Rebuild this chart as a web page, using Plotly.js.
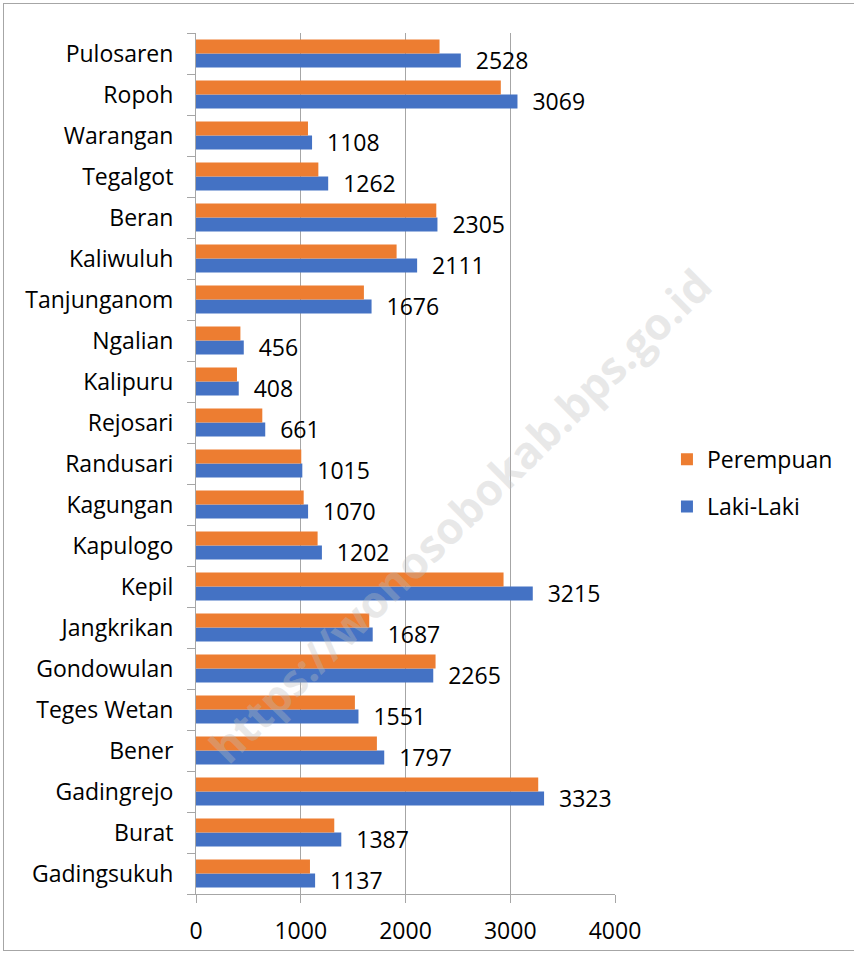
<!DOCTYPE html>
<html>
<head>
<meta charset="utf-8">
<script src="https://cdn.plot.ly/plotly-3.0.1.min.js"></script>
<style>
html,body{margin:0;padding:0;background:#fff;}
#wrap{position:relative;width:854px;height:956px;}
#frame{position:absolute;left:3px;top:3px;width:860px;height:948px;border:1px solid #a6a6a6;box-sizing:border-box;pointer-events:none;z-index:5;}
#chart{position:absolute;left:0;top:0;width:854px;height:956px;}
</style>
</head>
<body>
<div id="wrap"><div id="chart"></div><div id="frame"></div></div>
<script>
// Categories listed bottom to top
const categories = ["Gadingsukuh","Burat","Gadingrejo","Bener","Teges Wetan","Gondowulan","Jangkrikan","Kepil","Kapulogo","Kagungan","Randusari","Rejosari","Kalipuru","Ngalian","Tanjunganom","Kaliwuluh","Beran","Tegalgot","Warangan","Ropoh","Pulosaren"];
const lakiLaki = [1137,1387,3323,1797,1551,2265,1687,3215,1202,1070,1015,661,408,456,1676,2111,2305,1262,1108,3069,2528];
const perempuan = [1088,1320,3267,1727,1517,2287,1654,2936,1161,1028,1005,633,391,424,1603,1915,2294,1168,1069,2910,2325];
const xTicks = [0,1000,2000,3000,4000];
const watermark = "https://wonosobokab.bps.go.id";

const font = "Open Sans, Noto Sans, sans-serif";
const traces = [
  {type:"bar", orientation:"h", name:"Laki-Laki", y:categories, x:lakiLaki,
   marker:{color:"#4472c4"}, text:lakiLaki.map(v=>"  "+v), textposition:"outside",
   constraintext:"none", textfont:{size:23,color:"#000",family:font}, cliponaxis:false, legend:"legend2"},
  {type:"bar", orientation:"h", name:"Perempuan", y:categories, x:perempuan,
   marker:{color:"#ed7d31"}, legend:"legend"}
];
const layout = {
  width:854, height:956,
  margin:{l:196, r:239, t:33, b:62},
  paper_bgcolor:"#fff", plot_bgcolor:"#fff",
  font:{family:font, size:23, color:"#000"},
  barmode:"group", bargap:0.32, bargroupgap:0,
  xaxis:{range:[0,4000], tickvals:xTicks, ticktext:xTicks.map(String),
    showgrid:true, gridcolor:"#a6a6a6", gridwidth:1, zeroline:false,
    showline:true, linecolor:"#a6a6a6", linewidth:1,
    ticks:"outside", ticklen:8, tickcolor:"#a6a6a6", tickfont:{size:23},
    ticklabelstandoff:8, fixedrange:true},
  yaxis:{type:"category", showline:true, linecolor:"#a6a6a6", linewidth:1,
    ticks:"outside", ticklen:8, tickcolor:"#a6a6a6", tickson:"boundaries",
    showgrid:false, tickfont:{size:23}, ticklabelstandoff:17, fixedrange:true},
  showlegend:true,
  legend:{x:0.124, y:0.505, xref:"paper", xanchor:"left", yanchor:"middle", font:{size:23},
    bgcolor:"rgba(0,0,0,0)"},
  legend2:{x:0.124, y:0.45, xanchor:"left", yanchor:"middle", font:{size:23},
    bgcolor:"rgba(0,0,0,0)"},
  annotations:[{text:"<b>"+watermark+"</b>", xref:"paper", yref:"paper",
    x:0.63, y:0.44, textangle:-44.5, showarrow:false,
    font:{size:44, color:"rgba(190,190,190,0.35)", family:font}}]
};
layout.legend.x = 1.124; layout.legend2.x = 1.124;
Plotly.newPlot("chart", traces, layout, {displayModeBar:false, staticPlot:true});
</script>
</body>
</html>
